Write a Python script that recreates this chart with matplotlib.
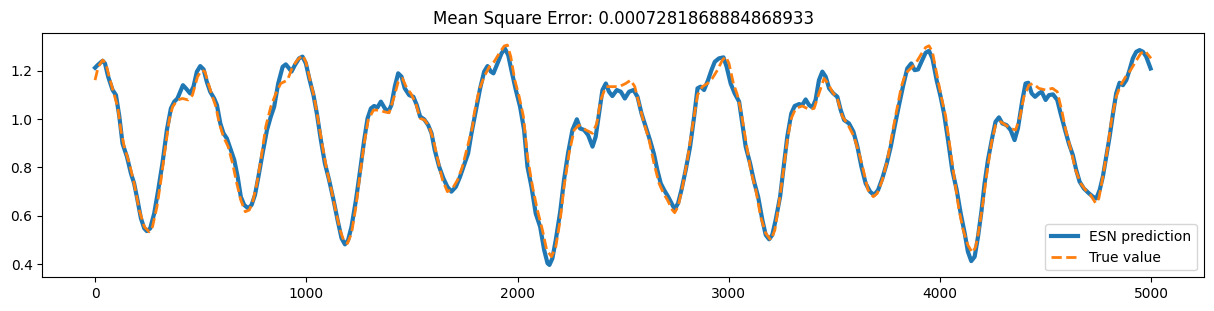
import matplotlib
matplotlib.use("Agg")
import matplotlib.pyplot as plt

# ESN prediction
pred_x = [0, 12, 36, 47, 62, 83, 99, 115, 130, 151, 170, 185, 201, 217, 233, 245, 261, 280, 299, 319,
          340, 359, 375, 390, 403, 416, 430, 450, 466, 482, 498, 514, 529, 545, 564, 577, 593, 608, 624,
          643, 659, 675, 690, 706, 725, 741, 757, 772, 793, 814, 832, 848, 867, 888, 903, 919, 930, 946,
          966, 982, 998, 1014, 1034, 1050, 1069, 1088, 1108, 1129, 1148, 1167, 1183, 1198, 1214, 1235,
          1255, 1274, 1290, 1306, 1321, 1337, 1353, 1372, 1388, 1403, 1419, 1435, 1451, 1466, 1487, 1507,
          1523, 1539, 1558, 1577, 1593, 1608, 1629, 1649, 1668, 1687, 1708, 1728, 1747, 1766, 1782, 1803,
          1823, 1842, 1858, 1874, 1886, 1905, 1924, 1940, 1956, 1971, 1992, 2012, 2031, 2047, 2066, 2086,
          2107, 2126, 2142, 2151, 2165, 2181, 2202, 2220, 2239, 2260, 2281, 2296, 2315, 2334, 2355, 2370,
          2386, 2402, 2418, 2433, 2449, 2470, 2489, 2508, 2528, 2549, 2568, 2587, 2607, 2627, 2646, 2662,
          2678, 2694, 2713, 2729, 2744, 2760, 2776, 2796, 2817, 2836, 2852, 2867, 2883, 2902, 2918, 2934,
          2954, 2975, 2990, 3009, 3028, 3049, 3064, 3080, 3101, 3120, 3139, 3159, 3175, 3191, 3206, 3222,
          3243, 3262, 3277, 3296, 3312, 3333, 3348, 3364, 3380, 3396, 3411, 3427, 3443, 3459, 3475, 3495,
          3514, 3530, 3546, 3569, 3590, 3609, 3628, 3648, 3669, 3688, 3707, 3727, 3748, 3767, 3785, 3806,
          3826, 3845, 3864, 3880, 3896, 3916, 3932, 3948, 3964, 3984, 4003, 4019, 4038, 4058, 4079, 4098,
          4117, 4132, 4148, 4164, 4180, 4196, 4211, 4227, 4248, 4263, 4279, 4295, 4315, 4334, 4353, 4369,
          4390, 4405, 4418, 4434, 4450, 4468, 4481, 4500, 4516, 4535, 4555, 4571, 4592, 4610, 4629, 4645,
          4661, 4681, 4705, 4724, 4740, 4756, 4771, 4787, 4803, 4819, 4834, 4850, 4866, 4882, 4897, 4913,
          4929, 4945, 4961, 4976, 4997]
pred_y = [1.212, 1.223, 1.241, 1.230, 1.175, 1.120, 1.099, 1.010, 0.899, 0.844, 0.775, 0.734, 0.665, 0.590,
          0.548, 0.537, 0.548, 0.610, 0.707, 0.817, 0.955, 1.044, 1.072, 1.085, 1.113, 1.140, 1.127, 1.106,
          1.134, 1.196, 1.219, 1.205, 1.154, 1.113, 1.085, 1.058, 0.982, 0.941, 0.920, 0.872, 0.831, 0.762,
          0.679, 0.645, 0.631, 0.645, 0.686, 0.755, 0.858, 0.955, 1.010, 1.051, 1.147, 1.216, 1.226, 1.209,
          1.196, 1.223, 1.251, 1.258, 1.230, 1.168, 1.099, 1.023, 0.913, 0.817, 0.748, 0.665, 0.583, 0.507,
          0.482, 0.500, 0.555, 0.665, 0.789, 0.913, 1.003, 1.044, 1.054, 1.048, 1.072, 1.044, 1.030, 1.058,
          1.134, 1.189, 1.175, 1.127, 1.099, 1.092, 1.058, 1.010, 0.999, 0.975, 0.941, 0.872, 0.803, 0.755,
          0.720, 0.700, 0.720, 0.762, 0.810, 0.858, 0.941, 1.037, 1.127, 1.196, 1.219, 1.196, 1.189, 1.230,
          1.271, 1.292, 1.264, 1.202, 1.120, 1.051, 0.955, 0.803, 0.720, 0.610, 0.555, 0.459, 0.404, 0.397,
          0.424, 0.500, 0.617, 0.748, 0.858, 0.955, 0.999, 0.961, 0.955, 0.934, 0.886, 0.927, 1.023, 1.120,
          1.147, 1.113, 1.095, 1.120, 1.113, 1.085, 1.113, 1.120, 1.092, 1.023, 0.968, 0.913, 0.855, 0.789,
          0.734, 0.707, 0.679, 0.652, 0.627, 0.652, 0.707, 0.789, 0.886, 1.010, 1.127, 1.134, 1.120, 1.161,
          1.202, 1.237, 1.251, 1.255, 1.216, 1.147, 1.106, 1.072, 0.982, 0.886, 0.817, 0.741, 0.679, 0.583,
          0.521, 0.503, 0.521, 0.583, 0.679, 0.817, 0.927, 1.023, 1.054, 1.062, 1.058, 1.081, 1.058, 1.048,
          1.079, 1.161, 1.196, 1.175, 1.127, 1.106, 1.092, 1.037, 0.996, 0.982, 0.948, 0.886, 0.803, 0.734,
          0.700, 0.686, 0.707, 0.755, 0.817, 0.886, 0.968, 1.058, 1.140, 1.209, 1.230, 1.202, 1.205, 1.244,
          1.274, 1.282, 1.251, 1.161, 1.092, 1.023, 0.913, 0.789, 0.707, 0.610, 0.528, 0.452, 0.413, 0.431,
          0.514, 0.617, 0.734, 0.831, 0.927, 0.989, 1.007, 0.982, 0.975, 0.955, 0.913, 0.962, 1.079, 1.147,
          1.150, 1.106, 1.092, 1.106, 1.113, 1.079, 1.099, 1.102, 1.079, 1.023, 0.955, 0.899, 0.851, 0.789,
          0.741, 0.713, 0.693, 0.679, 0.672, 0.707, 0.762, 0.844, 0.927, 1.023, 1.106, 1.150, 1.140, 1.161,
          1.202, 1.251, 1.278, 1.285, 1.278, 1.258, 1.209]

# True value
true_x = [0, 15, 36, 51, 67, 91, 107, 122, 138, 162, 185, 209, 233, 256, 272, 293, 312, 331, 351, 367,
          391, 414, 441, 461, 485, 504, 520, 536, 556, 572, 588, 608, 630, 651, 671, 690, 711, 730, 745,
          766, 785, 808, 832, 856, 879, 911, 935, 958, 982, 998, 1018, 1037, 1056, 1077, 1097, 1119, 1140,
          1160, 1179, 1195, 1214, 1235, 1255, 1274, 1293, 1318, 1345, 1369, 1392, 1416, 1435, 1455, 1476,
          1495, 1518, 1539, 1561, 1582, 1602, 1621, 1645, 1668, 1692, 1716, 1739, 1763, 1787, 1795, 1818,
          1842, 1866, 1889, 1913, 1937, 1952, 1968, 1987, 2008, 2028, 2047, 2071, 2094, 2118, 2138, 2161,
          2181, 2202, 2220, 2244, 2268, 2291, 2323, 2355, 2375, 2394, 2418, 2449, 2481, 2512, 2536, 2555,
          2575, 2599, 2623, 2646, 2670, 2691, 2710, 2733, 2744, 2760, 2781, 2804, 2828, 2852, 2875, 2899,
          2922, 2946, 2970, 2986, 3001, 3022, 3041, 3060, 3080, 3104, 3128, 3151, 3175, 3199, 3218, 3238,
          3259, 3277, 3296, 3317, 3348, 3380, 3404, 3427, 3451, 3470, 3490, 3514, 3538, 3561, 3593, 3617,
          3637, 3659, 3684, 3703, 3727, 3751, 3774, 3795, 3817, 3837, 3861, 3885, 3908, 3932, 3948, 3964,
          3984, 4006, 4027, 4047, 4069, 4090, 4110, 4132, 4153, 4169, 4184, 4205, 4224, 4243, 4263, 4287,
          4311, 4334, 4358, 4379, 4397, 4421, 4440, 4468, 4500, 4532, 4555, 4576, 4595, 4618, 4642, 4666,
          4689, 4713, 4737, 4752, 4771, 4792, 4812, 4834, 4855, 4879, 4902, 4926, 4950, 4970, 4992, 4999]
true_y = [1.161, 1.216, 1.244, 1.230, 1.175, 1.099, 1.051, 0.955, 0.886, 0.817, 0.734, 0.624, 0.555, 0.534,
          0.555, 0.638, 0.748, 0.872, 0.996, 1.051, 1.079, 1.085, 1.079, 1.099, 1.175, 1.202, 1.196, 1.147,
          1.092, 1.051, 0.982, 0.927, 0.886, 0.817, 0.734, 0.665, 0.617, 0.624, 0.652, 0.734, 0.831, 0.968,
          1.051, 1.106, 1.147, 1.161, 1.216, 1.244, 1.264, 1.237, 1.161, 1.092, 0.996, 0.886, 0.789, 0.707,
          0.617, 0.541, 0.493, 0.486, 0.528, 0.638, 0.776, 0.899, 0.996, 1.037, 1.037, 1.030, 1.026, 1.092,
          1.154, 1.168, 1.127, 1.106, 1.065, 1.003, 0.996, 0.968, 0.913, 0.837, 0.748, 0.700, 0.713, 0.748,
          0.803, 0.886, 0.968, 1.023, 1.120, 1.175, 1.216, 1.237, 1.271, 1.302, 1.306, 1.258, 1.161, 1.092,
          1.010, 0.844, 0.720, 0.624, 0.541, 0.459, 0.431, 0.472, 0.583, 0.720, 0.858, 0.955, 0.975, 0.955,
          0.941, 0.982, 1.079, 1.134, 1.134, 1.134, 1.147, 1.161, 1.134, 1.065, 0.982, 0.913, 0.817, 0.734,
          0.693, 0.665, 0.624, 0.613, 0.638, 0.720, 0.831, 0.968, 1.099, 1.134, 1.147, 1.168, 1.202, 1.244,
          1.258, 1.230, 1.147, 1.099, 1.023, 0.913, 0.789, 0.707, 0.596, 0.528, 0.500, 0.541, 0.652, 0.789,
          0.913, 1.003, 1.044, 1.054, 1.040, 1.044, 1.106, 1.168, 1.147, 1.113, 1.085, 1.010, 0.982, 0.927,
          0.858, 0.789, 0.707, 0.679, 0.693, 0.748, 0.831, 0.941, 1.037, 1.134, 1.189, 1.209, 1.230, 1.264,
          1.296, 1.303, 1.278, 1.189, 1.092, 1.010, 0.886, 0.748, 0.624, 0.541, 0.479, 0.448, 0.472, 0.541,
          0.665, 0.789, 0.899, 0.975, 0.989, 0.975, 0.961, 0.955, 1.010, 1.092, 1.140, 1.147, 1.127, 1.120,
          1.127, 1.113, 1.037, 0.955, 0.879, 0.789, 0.734, 0.707, 0.686, 0.652, 0.672, 0.762, 0.872, 0.996,
          1.092, 1.140, 1.175, 1.202, 1.237, 1.271, 1.282, 1.258, 1.251]

mse_text = "Mean Square Error: 0.0007281868884868933"

fig = plt.figure(figsize=(12.14, 3.11), dpi=100)
ax = fig.add_axes([0.0348, 0.1084, 0.9570, 0.7865])
ax.plot(pred_x, pred_y, color="#1f77b4", lw=3, label="ESN prediction")
ax.plot(true_x, true_y, color="#ff7f0e", lw=2, ls="--", label="True value")
ax.set_xlim(-250, 5250)
ax.set_ylim(0.346, 1.357)
ax.set_yticks([0.4, 0.6, 0.8, 1.0, 1.2])
ax.set_title(mse_text)
ax.legend(loc="lower right")
fig.savefig("out.png", dpi=100)
